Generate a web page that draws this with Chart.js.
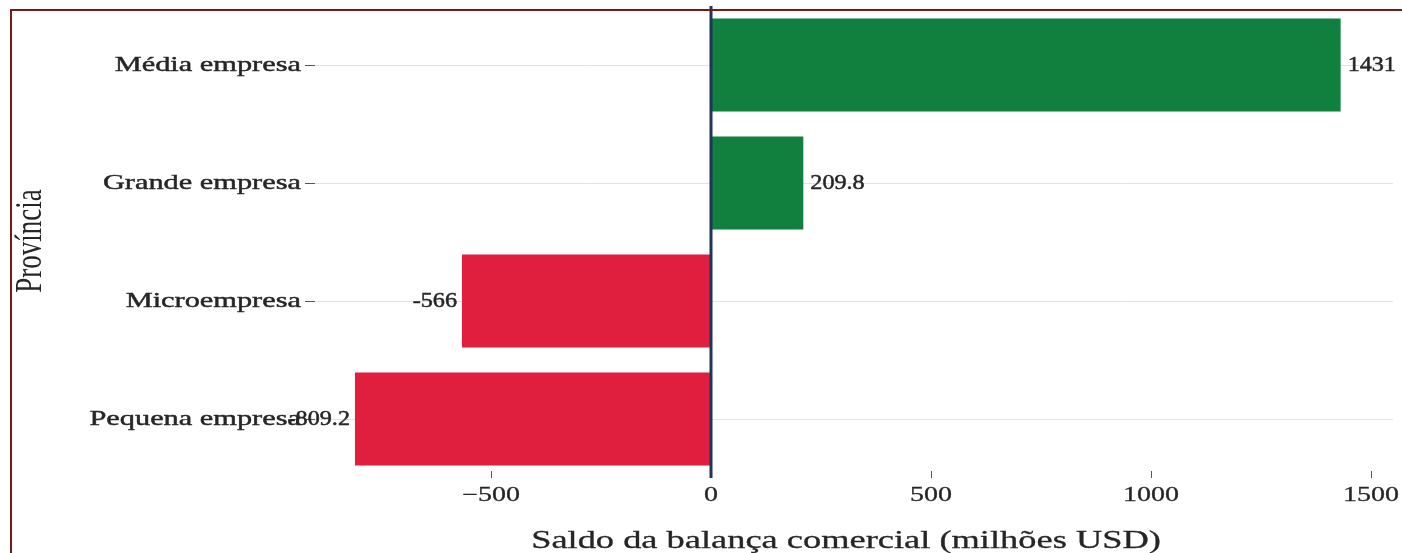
<!DOCTYPE html>
<html>
<head>
<meta charset="utf-8">
<script src="https://cdn.jsdelivr.net/npm/chart.js@4/dist/chart.umd.min.js"></script>
<style>
  html, body { margin: 0; padding: 0; background: #fff; }
  #wrap { width: 1402px; height: 553px; position: relative; }
</style>
</head>
<body>
<div id="wrap"><canvas id="saldo"></canvas></div>
<script>
// porte da empresa e saldo (milhões USD)
var categorias = ['Média empresa', 'Grande empresa', 'Microempresa', 'Pequena empresa'];
var saldo = [1431, 209.8, -566, -809.2];
var xTicks = [-500, 0, 500, 1000, 1500];

var verde = '#11803f';
var vermelho = '#e01e3e';
var texto = '#262626';

// text is drawn a bit wider than the font itself; 'peso' adds a thin outline
function txt(ctx, s, x, y, font, sx, align, peso) {
  ctx.save();
  ctx.translate(x, y);
  ctx.scale(sx, 1);
  ctx.font = font;
  ctx.fillStyle = texto;
  ctx.textAlign = align;
  ctx.textBaseline = 'middle';
  ctx.fillText(s, 0, 0);
  if (peso) {
    ctx.strokeStyle = texto;
    ctx.lineWidth = peso;
    ctx.strokeText(s, 0, 0);
  }
  ctx.restore();
}

var extras = {
  id: 'extras',
  afterDatasetsDraw: function(chart) {
    var ctx = chart.ctx, xs = chart.scales.x, a = chart.chartArea;
    // linha do zero
    var x0 = xs.getPixelForValue(0);
    ctx.save();
    ctx.strokeStyle = '#1c3558';
    ctx.lineWidth = 3;
    ctx.beginPath();
    ctx.moveTo(x0, a.top);
    ctx.lineTo(x0, a.bottom);
    ctx.stroke();

    // marcas do eixo x
    ctx.strokeStyle = '#555';
    ctx.lineWidth = 1;
    xTicks.forEach(function(v) {
      if (v === 0) return;
      var px = Math.round(xs.getPixelForValue(v)) + 0.5;
      ctx.beginPath();
      ctx.moveTo(px, a.bottom - 7);
      ctx.lineTo(px, a.bottom);
      ctx.stroke();
    });
    ctx.restore();

    // valores nas pontas das barras
    var meta = chart.getDatasetMeta(0);
    meta.data.forEach(function(bar, i) {
      var v = saldo[i];
      if (v >= 0) txt(ctx, String(v), bar.x + 7, bar.y, '21px "Liberation Serif"', 1.15, 'left', 0.5);
      else txt(ctx, String(v), bar.x - 5, bar.y, '21px "Liberation Serif"', 1.15, 'right', 0.5);
    });
  },
  afterDraw: function(chart) {
    var ctx = chart.ctx, xs = chart.scales.x, ys = chart.scales.y, a = chart.chartArea;
    // rótulos do eixo y
    categorias.forEach(function(c, i) {
      txt(ctx, c, a.left - 14, ys.getPixelForValue(i), '22px "Liberation Serif"', 1.38, 'right', 0.45);
    });
    // rótulos do eixo x
    xTicks.forEach(function(v) {
      var s = v < 0 ? '\u2212' + Math.abs(v) : String(v);
      txt(ctx, s, xs.getPixelForValue(v), 496, '20px "Liberation Serif"', 1.4, 'center', 0.3);
    });
    // títulos
    txt(ctx, 'Saldo da balança comercial (milhões USD)', (a.left + a.right) / 2 - 8, 541,
        '26px "Liberation Serif"', 1.4, 'center', 0.3);
    ctx.save();
    ctx.translate(31, 241);
    ctx.scale(1.4, 1);
    ctx.rotate(-Math.PI / 2);
    ctx.font = '27px "Liberation Serif"';
    ctx.fillStyle = texto;
    ctx.textAlign = 'center';
    ctx.textBaseline = 'middle';
    ctx.fillText('Província', 0, 0);
    ctx.restore();

    // moldura
    ctx.save();
    ctx.strokeStyle = '#7a1717';
    ctx.lineWidth = 2;
    ctx.strokeRect(11, 10, 1420, 600);
    ctx.restore();
  }
};

new Chart(document.getElementById('saldo'), {
  type: 'bar',
  data: {
    labels: categorias,
    datasets: [{
      data: saldo,
      backgroundColor: saldo.map(function(v) { return v >= 0 ? verde : vermelho; }),
      borderWidth: 0,
      barPercentage: 0.79,
      categoryPercentage: 1
    }]
  },
  options: {
    indexAxis: 'y',
    responsive: true,
    maintainAspectRatio: false,
    animation: false,
    layout: { padding: { top: 6, right: 9, left: 0, bottom: 0 } },
    plugins: { legend: { display: false }, tooltip: { enabled: false } },
    scales: {
      x: {
        min: -900,
        max: 1550,
        afterBuildTicks: function(scale) {
          scale.ticks = xTicks.map(function(v) { return { value: v }; });
        },
        afterFit: function(scale) { scale.height = 75; },
        ticks: { display: false },
        border: { display: false },
        grid: { display: false }
      },
      y: {
        afterFit: function(scale) { scale.width = 315; },
        ticks: { display: false },
        border: { display: false },
        grid: { offset: false, color: '#e2e2e2', lineWidth: 1, tickLength: 10, tickColor: '#555' }
      }
    }
  },
  plugins: [extras]
});
</script>
</body>
</html>
